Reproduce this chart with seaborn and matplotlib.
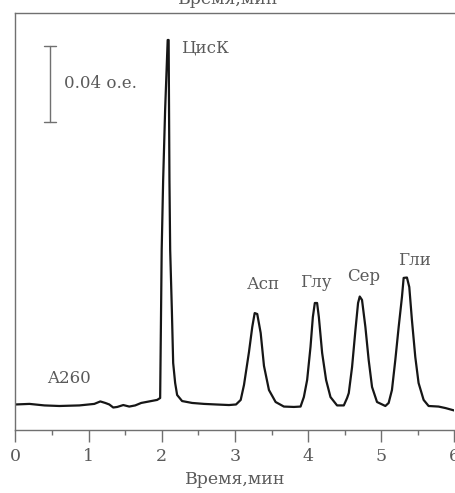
import matplotlib
matplotlib.use("Agg")
import matplotlib.pyplot as plt
import seaborn as sns
import pandas as pd
from matplotlib.ticker import MultipleLocator

# ---- data (time, min; absorbance, o.e.) ----
time_min = [0.000, 0.191, 0.395, 0.600, 0.873, 1.077, 1.159, 1.227, 1.282, 1.336,
            1.391, 1.473, 1.555, 1.636, 1.718, 1.827, 1.936, 1.977, 1.991, 1.998,
            2.018, 2.045, 2.080, 2.093, 2.104, 2.114, 2.137, 2.155, 2.182, 2.209,
            2.277, 2.414, 2.577, 2.741, 2.918, 3.014, 3.078, 3.123, 3.191, 3.236,
            3.269, 3.304, 3.351, 3.396, 3.464, 3.555, 3.668, 3.805, 3.896, 3.941,
            3.986, 4.032, 4.064, 4.091, 4.122, 4.146, 4.191, 4.245, 4.305, 4.395,
            4.487, 4.532, 4.555, 4.600, 4.646, 4.682, 4.705, 4.736, 4.782, 4.827,
            4.873, 4.941, 5.055, 5.100, 5.145, 5.191, 5.237, 5.282, 5.305, 5.350,
            5.382, 5.418, 5.464, 5.509, 5.578, 5.646, 5.782, 5.878, 6.000]
absorbance = [0.0008, 0.0011, 0.0003, 0.0000, 0.0003, 0.0011, 0.0024, 0.0016, 0.0008, -0.0008,
              -0.0005, 0.0005, -0.0003, 0.0003, 0.0016, 0.0024, 0.0032, 0.0042, 0.0558, 0.0821,
              0.1189, 0.1558, 0.1926, 0.1926, 0.1189, 0.0821, 0.0505, 0.0226, 0.0121, 0.0058,
              0.0026, 0.0016, 0.0011, 0.0008, 0.0005, 0.0008, 0.0032, 0.0111, 0.0284, 0.0416,
              0.0489, 0.0484, 0.0384, 0.0211, 0.0084, 0.0021, -0.0003, -0.0005, -0.0003, 0.0047,
              0.0137, 0.0311, 0.0468, 0.0542, 0.0542, 0.0468, 0.0279, 0.0137, 0.0047, 0.0003,
              0.0003, 0.0042, 0.0068, 0.0205, 0.0400, 0.0542, 0.0576, 0.0558, 0.0416, 0.0242,
              0.0100, 0.0021, 0.0000, 0.0016, 0.0084, 0.0242, 0.0416, 0.0574, 0.0674, 0.0676,
              0.0626, 0.0453, 0.0258, 0.0121, 0.0032, 0.0000, -0.0003, -0.0011, -0.0024]

peak_labels = ["ЦисК", "Асп", "Глу", "Сер", "Гли"]
peak_label_t = [2.262, 3.165, 3.889, 4.532, 5.229]
peak_label_a = [0.1884, 0.0640, 0.0648, 0.0681, 0.0763]

x_ticks = [0, 1, 2, 3, 4, 5, 6]
x_label = "Время,мин"
detector_label = "A260"
scale_label = "0.04 о.е."
scale_value = 0.04

df = pd.DataFrame({"t": time_min, "a": absorbance})

sns.set_theme(style="white")
plt.rcParams["font.family"] = ["DejaVu Serif", "DejaVu Sans"]

TXT = "#5a5a5a"
AX = "#707070"

fig = plt.figure(figsize=(4.56, 4.93), dpi=100)
ax = fig.add_axes([15.5 / 456, 63.5 / 493, 439 / 456, 416.5 / 493])

sns.lineplot(data=df, x="t", y="a", ax=ax, color="#161616", linewidth=1.6,
             sort=False, estimator=None)

ax.set_xlim(0, 6)
ax.set_ylim(-0.01237, 0.2068)
ax.set_xticks(x_ticks)
ax.set_xticklabels([str(v) for v in x_ticks])
ax.xaxis.set_minor_locator(MultipleLocator(0.5))
ax.set_yticks([])
ax.tick_params(axis="x", which="major", direction="out", length=8.5, width=1.0,
               color=AX, labelsize=12.5, labelcolor=TXT, pad=5, bottom=True)
ax.tick_params(axis="x", which="minor", direction="out", length=3.5, width=1.0,
               color=AX, bottom=True)
ax.set_xlabel(x_label, fontsize=12.5, color=TXT, labelpad=4)
ax.set_ylabel("")

for side in ["left", "bottom", "top"]:
    ax.spines[side].set_color(AX)
    ax.spines[side].set_linewidth(1.0)
ax.spines["right"].set_visible(False)

# peak labels
for lab, t, a in zip(peak_labels, peak_label_t, peak_label_a):
    ax.text(t, a, lab, fontsize=12, color=TXT, ha="left", va="center")

ax.text(0.431, 0.0147, detector_label, fontsize=12, color=TXT, ha="left", va="center")

# scale bar
sb_x = 0.472
sb_top = 0.1895
ax.plot([sb_x, sb_x], [sb_top - scale_value, sb_top], color=AX, lw=1.0)
ax.plot([sb_x - 0.082, sb_x + 0.082], [sb_top, sb_top], color=AX, lw=1.0)
ax.plot([sb_x - 0.082, sb_x + 0.082], [sb_top - scale_value, sb_top - scale_value], color=AX, lw=1.0)
ax.text(0.663, sb_top - scale_value / 2, scale_label, fontsize=12, color=TXT,
        ha="left", va="center")

# duplicated axis title cut off at top of the picture (as in the reference)
fig.text(0.5, 1 - 3.5 / 493, x_label, fontsize=12.5, color=TXT, ha="center", va="baseline")

fig.savefig("out.png", dpi=100)
